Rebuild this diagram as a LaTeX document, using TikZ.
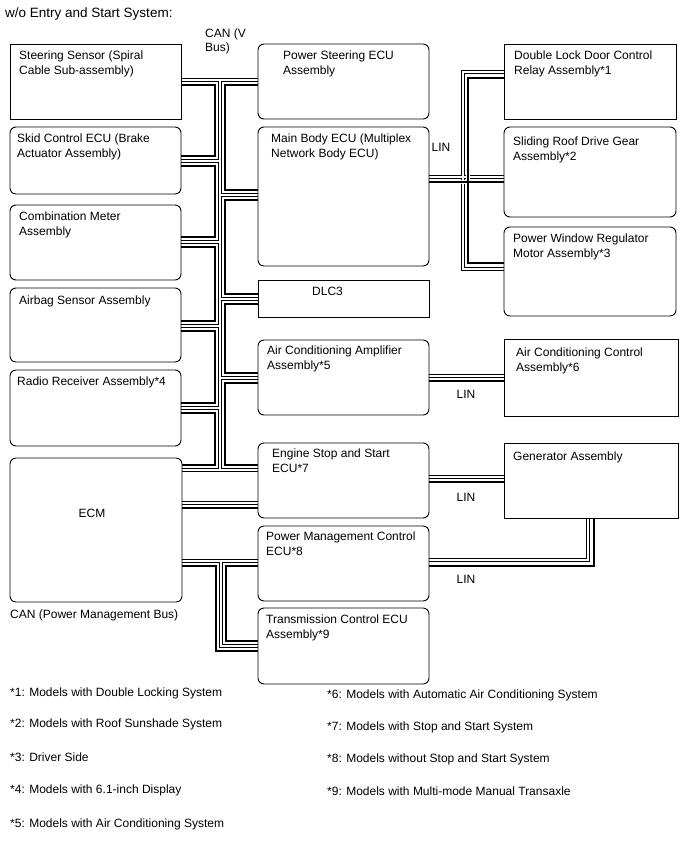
\documentclass[tikz,border=0pt]{standalone}
\usepackage{fontspec}
\setmainfont{Liberation Sans}
\usetikzlibrary{backgrounds}
\begin{document}
\begin{tikzpicture}[
  x=1pt, y=-1pt,
  font=\fontsize{12}{15}\selectfont,
  ecu/.style={draw, line width=0.9pt, rounded corners=6pt, inner sep=0pt, outer sep=0pt},
  sqbox/.style={draw, line width=0.9pt, inner sep=0pt, outer sep=0pt},
  txt/.style={inner sep=0pt, anchor=north west, align=left},
  dbl/.style={double, line width=1pt, double distance=1.6pt},
  thk/.style={line width=2.4pt, preaction={draw, white, line width=4.8pt}},
  note/.style={inner sep=0pt, anchor=west}
]
  \useasboundingbox (0,0) rectangle (688,852);

  % left column
  \node[sqbox, minimum width=171pt, minimum height=75pt] (steer) at (95.5,81.5) {};
  \node[ecu, minimum width=171pt, minimum height=67pt] (skid) at (95.5,160.5) {};
  \node[ecu, minimum width=171pt, minimum height=75pt] (comb) at (95.5,242.5) {};
  \node[ecu, minimum width=171pt, minimum height=74pt] (airbag) at (95.5,325) {};
  \node[ecu, minimum width=171pt, minimum height=76pt] (radio) at (95.5,408) {};
  \node[ecu, minimum width=172pt, minimum height=144pt] (ecm) at (96,530) {};

  % middle column
  \node[ecu, minimum width=171pt, minimum height=75pt] (pst) at (343.5,81.5) {};
  \node[ecu, minimum width=171pt, minimum height=139pt] (mainbody) at (343.5,196.5) {};
  \node[sqbox, minimum width=171pt, minimum height=37pt] (dlc) at (343.5,298.5) {};
  \node[ecu, minimum width=171pt, minimum height=75pt] (acamp) at (343.5,377.5) {};
  \node[ecu, minimum width=171pt, minimum height=75pt] (eng) at (343.5,480.5) {};
  \node[ecu, minimum width=171pt, minimum height=75pt] (pm) at (343.5,563.5) {};
  \node[ecu, minimum width=171pt, minimum height=76pt] (trans) at (343.5,646) {};

  % right column
  \node[sqbox, minimum width=172pt, minimum height=75pt] (dlock) at (590,81.5) {};
  \node[ecu, minimum width=172pt, minimum height=90pt] (sliding) at (590,172) {};
  \node[ecu, minimum width=172pt, minimum height=89pt] (pwin) at (590,271.5) {};
  \node[sqbox, minimum width=174pt, minimum height=77pt] (acctrl) at (591,377.5) {};
  \node[sqbox, minimum width=174pt, minimum height=75pt] (gen) at (591,480.5) {};

  \begin{scope}[on background layer]
  % CAN (V Bus)
  \draw[dbl] (steer.east |- 0,80) -- (pst.west |- 0,80)
    (220,80) -- (220,470)
    (skid.east |- 0,161) -- (220,161)
    (comb.east |- 0,242) -- (220,242)
    (airbag.east |- 0,326) -- (220,326)
    (radio.east |- 0,408) -- (220,408)
    (ecm.east |- 0,470) -- (eng.west |- 0,470)
    (220,195) -- (mainbody.west |- 0,195)
    (220,299) -- (dlc.west |- 0,299)
    (220,378) -- (acamp.west |- 0,378);
  \draw[thk] (steer.east |- 0,85) -- (215,85) -- (215,156) -- (skid.east |- 0,156)
    (skid.east |- 0,166) -- (215,166) -- (215,237) -- (comb.east |- 0,237)
    (comb.east |- 0,247) -- (215,247) -- (215,321) -- (airbag.east |- 0,321)
    (airbag.east |- 0,331) -- (215,331) -- (215,403) -- (radio.east |- 0,403)
    (radio.east |- 0,413) -- (215,413) -- (215,465) -- (ecm.east |- 0,465)
    (pst.west |- 0,85) -- (225,85) -- (225,190) -- (mainbody.west |- 0,190)
    (mainbody.west |- 0,200) -- (225,200) -- (225,294) -- (dlc.west |- 0,294)
    (dlc.west |- 0,304) -- (225,304) -- (225,373) -- (acamp.west |- 0,373)
    (acamp.west |- 0,383) -- (225,383) -- (225,465) -- (eng.west |- 0,465);

  % CAN (Power Management Bus)
  \draw[dbl] (ecm.east |- 0,503) -- (eng.west |- 0,503)
    (ecm.east |- 0,561) -- (pm.west |- 0,561)
    (221,561) -- (221,646) -- (trans.west |- 0,646);
  \draw[thk] (ecm.east |- 0,508) -- (eng.west |- 0,508)
    (ecm.east |- 0,566) -- (216,566) -- (216,651) -- (trans.west |- 0,651)
    (pm.west |- 0,566) -- (226,566) -- (226,641) -- (trans.west |- 0,641);

  % LIN
  \draw[dbl] (mainbody.east |- 0,177) -- (sliding.west |- 0,177)
    (dlock.west |- 0,72) -- (463,72) -- (463,269) -- (pwin.west |- 0,269);
  \draw[thk] (mainbody.east |- 0,182) -- (sliding.west |- 0,182)
    (dlock.west |- 0,78) -- (468,78) -- (468,263) -- (pwin.west |- 0,263);
  \draw[dbl] (acamp.east |- 0,376) -- (acctrl.west |- 0,376);
  \draw[thk] (acamp.east |- 0,381) -- (acctrl.west |- 0,381);
  \draw[dbl] (eng.east |- 0,477) -- (gen.west |- 0,477);
  \draw[thk] (eng.east |- 0,482) -- (gen.west |- 0,482);
  \draw[dbl] (pm.east |- 0,560) -- (588,560) -- (gen.south -| 588,0);
  \draw[thk] (pm.east |- 0,566) -- (594,566) -- (gen.south -| 594,0);
  \end{scope}

  % texts
  \node[txt, font=\fontsize{13.5}{16}\selectfont] (title) at (5,8) {w/o Entry and Start System:};
  \node[txt, font=\fontsize{12}{13.5}\selectfont] (canv) at (205,29) {CAN (V\\Bus)};
  \node[txt] (steert) at (19,51) {Steering Sensor (Spiral\\Cable Sub-assembly)};
  \node[txt] (skidt) at (17,134) {Skid Control ECU (Brake\\Actuator Assembly)};
  \node[txt] (combt) at (19,212) {Combination Meter\\Assembly};
  \node[txt] (airbagt) at (19,296) {Airbag Sensor Assembly};
  \node[txt] (radiot) at (17,377) {Radio Receiver Assembly*4};
  \node (ecmt) at (92,513) {ECM};
  \node[txt] (canpm) at (10,610) {CAN (Power Management Bus)};

  \node[txt] (pstt) at (283,51) {Power Steering ECU\\Assembly};
  \node[txt] (mainbodyt) at (271,134) {Main Body ECU (Multiplex\\Network Body ECU)};
  \node[txt] (dlct) at (312,287) {DLC3};
  \node[txt] (acampt) at (267,346) {Air Conditioning Amplifier\\Assembly*5};
  \node[txt] (engt) at (272,449) {Engine Stop and Start\\ECU*7};
  \node[txt] (pmt) at (266,532) {Power Management Control\\ECU*8};
  \node[txt] (transt) at (266,615) {Transmission Control ECU\\Assembly*9};

  \node[txt] (dlockt) at (514,51) {Double Lock Door Control\\Relay Assembly*1};
  \node[txt] (slidingt) at (513,137) {Sliding Roof Drive Gear\\Assembly*2};
  \node[txt] (pwint) at (513,234) {Power Window Regulator\\Motor Assembly*3};
  \node[txt] (acctrlt) at (516,348) {Air Conditioning Control\\Assembly*6};
  \node[txt] (gent) at (513,452) {Generator Assembly};

  \node (lin1) at (441,147) {LIN};
  \node (lin2) at (466,394) {LIN};
  \node (lin3) at (466,497) {LIN};
  \node (lin4) at (466,579) {LIN};

  % notes
  \node[note] (n1) at (10,693) {*1: Models with Double Locking System};
  \node[note] (n2) at (10,724) {*2: Models with Roof Sunshade System};
  \node[note] (n3) at (10,757) {*3: Driver Side};
  \node[note] (n4) at (10,790) {*4: Models with 6.1-inch Display};
  \node[note] (n5) at (10,824) {*5: Models with Air Conditioning System};
  \node[note] (n6) at (327,695) {*6: Models with Automatic Air Conditioning System};
  \node[note] (n7) at (327,727) {*7: Models with Stop and Start System};
  \node[note] (n8) at (327,759) {*8: Models without Stop and Start System};
  \node[note] (n9) at (327,791) {*9: Models with Multi-mode Manual Transaxle};
\end{tikzpicture}
\end{document}
